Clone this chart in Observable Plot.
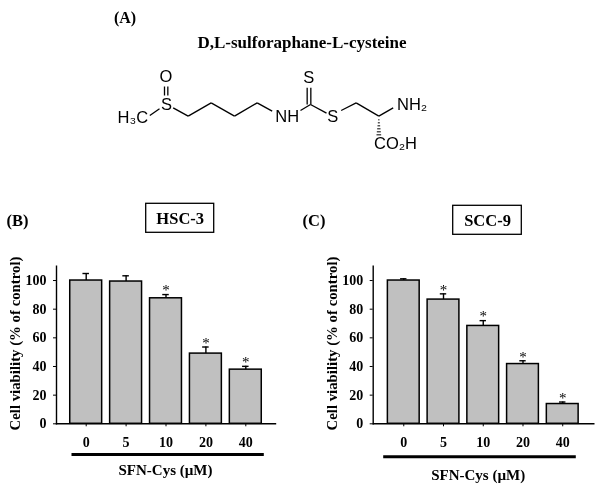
<!DOCTYPE html>
<html><head><meta charset="utf-8">
<script src="https://cdn.jsdelivr.net/npm/d3@7"></script>
<script src="https://cdn.jsdelivr.net/npm/@observablehq/plot@0.6"></script>
<style>
html,body{margin:0;padding:0;background:#fff}
#page{position:relative;width:600px;height:489px;overflow:hidden}
#page svg{position:absolute;background:transparent;max-width:none;filter:grayscale(1)}
</style></head><body><div id="page"></div>
<script>
const doses = ["0","5","10","20","40"];
const hscValues = [100, 99.3, 87.6, 49, 37.8];
const hscTops = [104.9, 103.3, 90.2, 53.6, 40.1];
const hscStars = ["", "", "*", "*", "*"];
const sccValues = [100, 86.7, 68.3, 41.7, 13.8];
const sccTops = [101.2, 90.7, 72, 44, 15.2];
const sccStars = ["", "*", "*", "*", "*"];

// Chemical structure, in the drawing's own units
const bonds = [
  [178,345,207,325],[248,322,293,347],[293,347,362,307],[362,307,432,347],[432,347,500,307],[500,307,545,332],
  [222,258,222,285],[232,258,232,285],[630,330,660,312],[650,262,650,312],[661,262,661,312],[660,312,708,338],
  [752,330,797,307],[797,307,865,347],[865,347,908,322]
];
const hashes = [[863,867,358],[862,868,367],[861,869,376],[860,870,385],[859,871,394],[858,872,403]];
const atoms = [
  ["H₃C",127,352],["S",228,312],["O",226,230],["NH",590,350],["S",655,232],["S",727,350],["NH₂",965,312],["CO₂H",915,430]
];

const page = document.getElementById("page");
function place(svg, left, top) { svg.style.left = left + "px"; svg.style.top = top + "px"; page.appendChild(svg); }

const serif = "'Liberation Serif','Times New Roman',serif";

function panel(values, tops, stars, opts) {
  const rows = doses.map((d, i) => ({dose: d, value: values[i], top: tops[i], star: stars[i]}));
  return Plot.plot({
    width: 300, height: 239,
    marginTop: 15.7, marginBottom: 65.7, marginLeft: opts.left, marginRight: opts.right,
    style: {fontFamily: serif, fontSize: "14px", fontWeight: "bold", background: "transparent", color: "#000"},
    x: {domain: doses, range: opts.range, paddingInner: 0.2, paddingOuter: 0.1, align: 0.5, round: false},
    y: {domain: [0, 110], ticks: [0,20,40,60,80,100]},
    marks: [
      Plot.ruleX(rows, {x: "dose", y1: "value", y2: "top", stroke: "#000", strokeWidth: 1.4}),
      Plot.tickY(rows, {x: "dose", y: "top", stroke: "#000", strokeWidth: 1.4, insetLeft: 12.7, insetRight: 12.7}),
      Plot.barY(rows, {x: "dose", y: "value", fill: "#c0c0c0", stroke: "#000", strokeWidth: 1.5}),
      Plot.text(rows, {x: "dose", y: "top", text: "star", dy: -4, fontSize: 15, fill: "#000", fontWeight: "normal"}),
      Plot.frame({anchor: "left", stroke: "#000", strokeWidth: 1.4}),
      Plot.frame({anchor: "bottom", stroke: "#000", strokeWidth: 1.4}),
      Plot.axisY({ticks: [0,20,40,60,80,100], tickSize: 3, tickPadding: 7, stroke: "#000", fill: "#000", label: null}),
      Plot.axisX({tickSize: 3, tickPadding: 10, stroke: "#000", fill: "#000", label: null})
    ]
  });
}

place(panel(hscValues, hscTops, hscStars, {left: 56, right: 25, range: [65.75, 265.25]}), 0, 250);
place(panel(sccValues, sccTops, sccStars, {left: 72.7, right: 6.7, range: [83.4, 282.1]}), 300, 250);

// Structure
place(Plot.plot({
  width: 350, height: 170, margin: 0,
  style: {background: "transparent"},
  x: {domain: [0,1050], range: [0,350], axis: null},
  y: {domain: [0,510], range: [0,170], axis: null},
  marks: [
    Plot.link(bonds, {x1: d=>d[0], y1: d=>d[1], x2: d=>d[2], y2: d=>d[3], stroke: "#000", strokeWidth: 1.3}),
    Plot.link(hashes, {x1: d=>d[0], y1: d=>d[2], x2: d=>d[1], y2: d=>d[2], stroke: "#000", strokeWidth: 1}),
    Plot.text(atoms, {x: d=>d[1], y: d=>d[2], text: d=>d[0], fontFamily: "'Liberation Sans',Arial,sans-serif", fontSize: 16.5, fill: "#000"})
  ]
}), 90, 0);

// Page annotations
const labels = [
  ["(A)",124.5,17,16],["D,L-sulforaphane-L-cysteine",301.5,42,17],
  ["(B)",17,220,16.5],["(C)",313.5,220,16.5],
  ["HSC-3",179.7,218,16.5],["SCC-9",487,220,16.5],
  ["SFN-Cys (µM)",165,470,15],["SFN-Cys (µM)",477.7,474.7,15]
];
const yLabels = [["Cell viability (% of control)",15,343],["Cell viability (% of control)",331.7,343]];
const boxes = [[145.7,203.3,213.7,232.3],[452.7,205.3,521.3,234.3]];
const underlines = [[71,263.3,454],[382.7,575.3,456.3]];
place(Plot.plot({
  width: 600, height: 489, margin: 0,
  style: {background: "transparent"},
  x: {domain: [0,600], range: [0,600], axis: null},
  y: {domain: [0,489], range: [0,489], axis: null},
  marks: [
    Plot.rect(boxes, {x1: d=>d[0], y1: d=>d[1], x2: d=>d[2], y2: d=>d[3], fill: "#fff", stroke: "#000", strokeWidth: 1.3}),
    Plot.link(underlines, {x1: d=>d[0], x2: d=>d[1], y1: d=>d[2], y2: d=>d[2], stroke: "#000", strokeWidth: 3, strokeLinecap: "butt"}),
    Plot.text(labels, {x: d=>d[1], y: d=>d[2], text: d=>d[0], fontSize: d=>d[3], fontWeight: "bold", fontFamily: serif, fill: "#000"}),
    Plot.text(yLabels, {x: d=>d[1], y: d=>d[2], text: d=>d[0], rotate: -90, fontSize: 14.8, fontWeight: "bold", fontFamily: serif, fill: "#000"})
  ]
}), 0, 0);
</script></body></html>
